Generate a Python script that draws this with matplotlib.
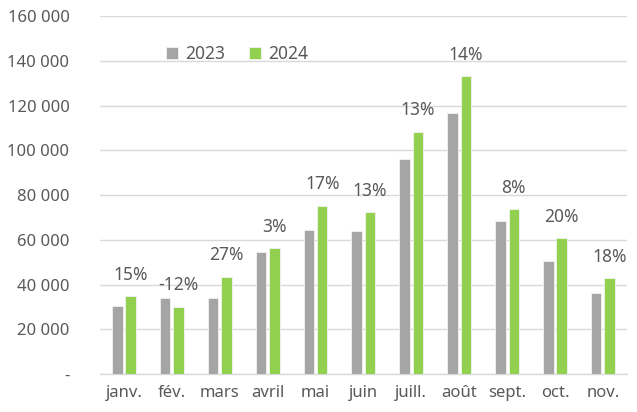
import matplotlib
matplotlib.use("Agg")
import matplotlib.pyplot as plt
import numpy as np
from matplotlib.ticker import FuncFormatter

months = ["janv.", "fév.", "mars", "avril", "mai", "juin", "juill.", "août", "sept.", "oct.", "nov."]
v2023 = [30400, 34100, 34000, 54700, 64600, 63800, 96200, 116800, 68400, 50500, 36200]
v2024 = [34700, 30100, 43400, 56200, 75300, 72300, 108400, 133300, 73700, 60700, 42800]
pct_labels = ["15%", "-12%", "27%", "3%", "17%", "13%", "13%", "14%", "8%", "20%", "18%"]
yticks = [0, 20000, 40000, 60000, 80000, 100000, 120000, 140000, 160000]

grey = "#A5A5A5"
green = "#92D050"
txt = "#595959"
grid = "#D9D9D9"

plt.rcParams['font.family'] = ['Noto Sans', 'DejaVu Sans']

fig = plt.figure(figsize=(6.37, 4.12), dpi=100)
ax = fig.add_axes([0.157, 0.0922, 0.827, 0.8682])

x = np.arange(len(months))
w = 0.22
off = 0.14
ax.bar(x - off, v2023, w, color=grey, edgecolor="#F2F2F2", linewidth=0.6, label="2023", zorder=3)
b24 = ax.bar(x + off, v2024, w, color=green, edgecolor="#F2F2F2", linewidth=0.6, label="2024", zorder=3)

for rect, lab in zip(b24, pct_labels):
    ax.annotate(lab, (rect.get_x() + rect.get_width() / 2, rect.get_height()),
                xytext=(0, 9), textcoords="offset points", ha="center", va="bottom",
                fontsize=12.5, color=txt)

ax.set_xlim(-0.5, len(months) - 0.5)
ax.set_ylim(0, 160000)
ax.set_yticks(yticks)
ax.yaxis.set_major_formatter(FuncFormatter(lambda v, p: "-" if v == 0 else f"{int(v):,}".replace(",", " ")))
ax.set_xticks(x)
ax.set_xticklabels(months)
ax.tick_params(axis="both", length=0, labelsize=12, colors=txt)
ax.tick_params(axis="y", pad=22)
ax.tick_params(axis="x", pad=8)
ax.yaxis.grid(True, color=grid, linewidth=1, zorder=0)
ax.set_axisbelow(True)
for s in ["top", "right", "left"]:
    ax.spines[s].set_visible(False)
ax.spines["bottom"].set_color(grid)
ax.spines["bottom"].set_linewidth(1)

leg = ax.legend(loc="center", bbox_to_anchor=(0.26, 0.895), ncol=2, frameon=False,
                fontsize=12.5, handlelength=0.7, handleheight=0.7, handletextpad=0.4,
                columnspacing=1.4, labelcolor=txt)

fig.savefig("out.png", dpi=100)
